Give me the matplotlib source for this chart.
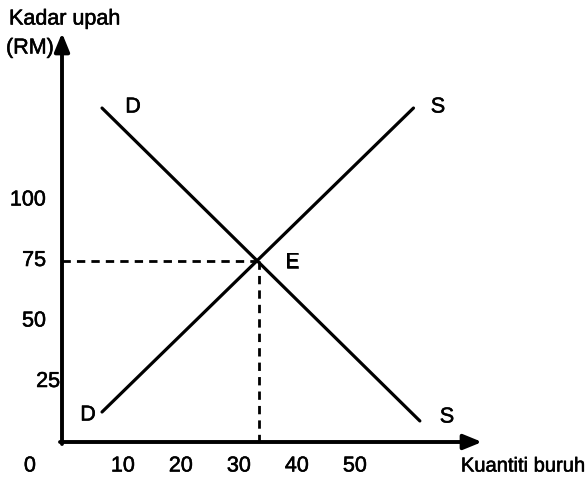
import matplotlib
matplotlib.use("Agg")
import matplotlib.pyplot as plt
import matplotlib.patheffects as pe

plt.rcParams['font.family'] = ['Liberation Sans', 'DejaVu Sans']

# Data (schematic labour market)
x_ticks = [0, 10, 20, 30, 40, 50]
y_ticks = [25, 50, 75, 100]
demand_x = [6.9, 61.7]
demand_y = [138.0, 8.7]
supply_x = [6.9, 60.6]
supply_y = [12.4, 138.0]
eq_x, eq_y = 34.0, 75.0
y_title_1 = "Kadar upah"
y_title_2 = "(RM)"
x_title = "Kuantiti buruh"

# pixel->data mapping constants (layout)
SX, SY = 5.8, 2.42
W, H = 588, 492
OX, OY = 62, 442  # origin in pixels (from top)

fig = plt.figure(figsize=(W / 100, H / 100), dpi=100)
ax = fig.add_axes([0, 0, 1, 1])
ax.set_xlim(-OX / SX, (W - OX) / SX)
ax.set_ylim(-(H - OY) / SY, OY / SY)
ax.axis('off')

def px2x(px):
    return (px - OX) / SX

def py2y(py):
    return (OY - py) / SY

thick = [pe.withStroke(linewidth=0.4, foreground='black')]

# axes with arrows
ax.annotate('', xy=(px2x(482), 0), xytext=(px2x(60), 0),
            arrowprops=dict(arrowstyle='-|>,head_length=1.1,head_width=0.45', lw=2.8, color='black',
                            shrinkA=0, shrinkB=0))
ax.annotate('', xy=(0, py2y(33)), xytext=(0, py2y(444)),
            arrowprops=dict(arrowstyle='-|>,head_length=1.1,head_width=0.45', lw=2.8, color='black',
                            shrinkA=0, shrinkB=0))

# curves
ax.plot(demand_x, demand_y, color='black', lw=2.3, solid_capstyle='round')
ax.plot(supply_x, supply_y, color='black', lw=2.3, solid_capstyle='round')

# dashed guides
ax.plot([0, eq_x], [eq_y, eq_y], color='black', lw=2.0, dashes=(3, 2.2))
ax.plot([eq_x, eq_x], [eq_y, 0], color='black', lw=2.0, dashes=(3, 2.2))

# curve labels
fs_lab = 15.5
for (px, py, s) in [(133, 107, 'D'), (88, 415, 'D'), (438, 107, 'S'), (447, 417, 'S'), (292, 262, 'E')]:
    ax.text(px2x(px), py2y(py), s, fontsize=fs_lab, ha='center', va='center', path_effects=thick)

# tick labels
fs_num = 15.5
row_y = py2y(466)
for v in x_ticks:
    xpos = v + 0.5 if v != 0 else px2x(30)
    ax.text(xpos, row_y, str(v), fontsize=fs_num, ha='center', va='center', path_effects=thick)
for v in y_ticks:
    xr = px2x(60) if v == 25 else px2x(46)
    ax.text(xr, v, str(v), fontsize=fs_num, ha='right', va='center', path_effects=thick)

# axis titles
ax.text(px2x(9), py2y(19), y_title_1, fontsize=15.5, ha='left', va='center', path_effects=thick)
ax.text(px2x(6), py2y(48), y_title_2, fontsize=15.5, ha='left', va='center', path_effects=thick)
ax.text(px2x(585), row_y, x_title, fontsize=14.5, ha='right', va='center', path_effects=thick)

fig.savefig('out.png', dpi=100)
